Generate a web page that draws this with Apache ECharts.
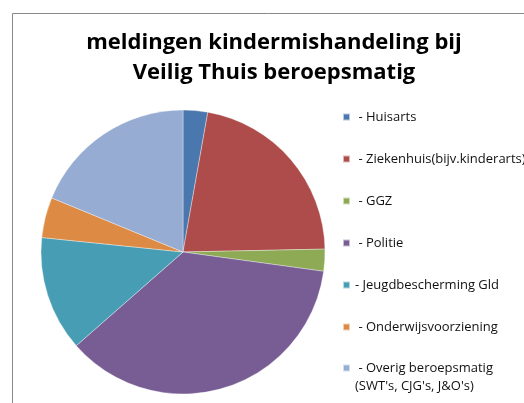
<!DOCTYPE html>
<html>
<head>
<meta charset="utf-8">
<script src="https://cdn.jsdelivr.net/npm/echarts@6/dist/echarts.min.js"></script>
<style>
  html, body { margin: 0; padding: 0; background: #fff; }
  #chart { width: 524px; height: 403px; }
</style>
</head>
<body>
<div id="chart"></div>
<script>
// slices clockwise from 12 o'clock (shares in %)
var categories = [
  ' - Huisarts',
  ' - Ziekenhuis(bijv.kinderarts)',
  ' - GGZ',
  ' - Politie',
  '- Jeugdbescherming Gld',
  ' - Onderwijsvoorziening',
  ' - Overig beroepsmatig\n(SWT\'s, CJG\'s, J&O\'s)'
]
var values = [2.8, 21.9, 2.5, 36.4, 13.1, 4.6, 18.8]
var colors = ['#4a78ae', '#ad4c4a', '#8eaa55', '#775d94', '#479eb4', '#dd8a44', '#97acd3']

var chart = echarts.init(document.getElementById('chart'))

var pieData = categories.map(function (name, i) {
  return { name: name, value: values[i] }
})

var legendFont = {
  fontFamily: 'Open Sans',
  fontSize: 13,
  lineHeight: 18,
  color: '#111'
}

var legendBase = {
  orient: 'vertical',
  left: 342,
  height: 500,
  padding: 0,
  icon: 'rect',
  itemWidth: 7,
  itemHeight: 7,
  itemGap: 24,
  selectedMode: false
}

chart.setOption({
  animation: false,
  color: colors,
  title: {
    text: 'meldingen kindermishandeling bij\nVeilig Thuis beroepsmatig',
    left: 274,
    top: 28,
    textAlign: 'center',
    padding: 0,
    textStyle: {
      fontFamily: 'Open Sans',
      fontWeight: 'bold',
      fontSize: 22,
      lineHeight: 30,
      color: '#000'
    }
  },
  legend: [
    Object.assign({}, legendBase, {
      top: 108,
      data: categories.slice(0, 6),
      textStyle: legendFont
    }),
    // two-line item: icon sits level with the first line
    Object.assign({}, legendBase, {
      top: 341,
      data: categories.slice(6),
      formatter: function (name) {
        return name.split('\n').map(function (s) { return '{t|' + s + '}' }).join('\n')
      },
      textStyle: Object.assign({}, legendFont, {
        padding: [18, 0, 0, 0],
        rich: { t: legendFont }
      })
    })
  ],
  graphic: [{
    type: 'rect',
    shape: { x: 12.5, y: 13.5, width: 600, height: 500 },
    style: { fill: null, stroke: '#888', lineWidth: 1 },
    silent: true
  }],
  series: [{
    type: 'pie',
    center: [183, 252],
    radius: 142,
    startAngle: 90,
    clockwise: true,
    label: { show: false },
    labelLine: { show: false },
    emphasis: { disabled: true },
    itemStyle: { borderColor: 'rgba(255,255,255,0.6)', borderWidth: 0.6 },
    data: pieData
  }]
})
</script>
</body>
</html>
